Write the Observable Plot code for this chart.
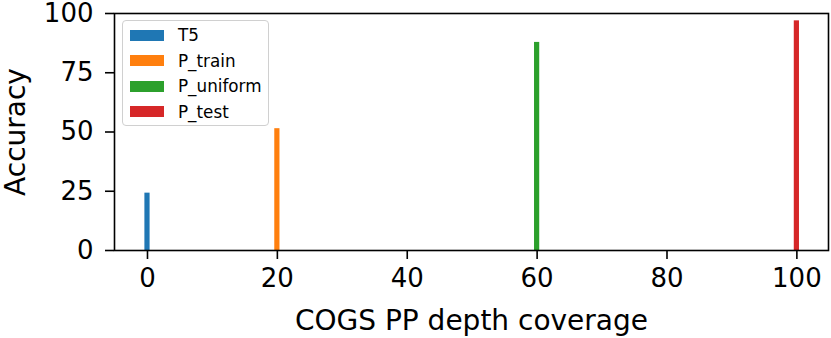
<!DOCTYPE html>
<html>
<head>
<meta charset="utf-8">
<script src="https://cdn.jsdelivr.net/npm/d3@7"></script>
<script src="https://cdn.jsdelivr.net/npm/@observablehq/plot@0.6"></script>
<style>
  html, body { margin: 0; padding: 0; background: white; }
  #wrap { position: relative; width: 831px; height: 338px; font-family: "DejaVu Sans", sans-serif; }
  #legend {
    position: absolute; left: 122px; top: 20px; width: 147px; height: 106px;
    border: 1.3px solid #d0d0d0; border-radius: 4px; background: rgba(255,255,255,0.8);
    box-sizing: border-box;
  }
  .row { position: absolute; left: 0; height: 20px; display: flex; align-items: center; }
  .sw { position: absolute; left: 7px; width: 34px; height: 11px; top: 4.5px; }
  .lab { position: absolute; left: 55px; top: 0; line-height: 20px; font-size: 16.8px; white-space: nowrap; color: black; }
</style>
</head>
<body>
<div id="wrap"></div>
<script>
const models = ["T5", "P_train", "P_uniform", "P_test"];
const coverage = [0, 20, 60, 100];
const accuracy = [24.2, 51.4, 87.8, 96.9];
const colors = ["#1f77b4", "#ff7f0e", "#2ca02c", "#d62728"];
const xTicks = [0, 20, 40, 60, 80, 100];
const yTicks = [0, 25, 50, 75, 100];
const xLabel = "COGS PP depth coverage";
const yLabel = "Accuracy";
const barWidth = 0.8;

const data = models.map((m, i) => ({model: m, coverage: coverage[i], accuracy: accuracy[i]}));

const chart = Plot.plot({
  width: 831,
  height: 338,
  marginLeft: 114,
  marginRight: 3,
  marginTop: 13,
  marginBottom: 88,
  style: {fontFamily: "DejaVu Sans", color: "black", background: "white", overflow: "visible"},
  x: {type: "linear", domain: [-5.08, 104.87]},
  y: {domain: [0, 100]},
  color: {domain: models, range: colors},
  marks: [
    Plot.rectY(data, {
      x1: d => d.coverage - barWidth / 2,
      x2: d => d.coverage + barWidth / 2,
      y: "accuracy",
      fill: "model"
    }),
    Plot.frame({stroke: "black", strokeWidth: 1.6}),
    Plot.axisX({ticks: xTicks, tickSize: 9, tickPadding: 9, fontSize: 26, label: null, strokeWidth: 1.6}),
    Plot.axisY({ticks: yTicks, tickSize: 9, tickPadding: 12, fontSize: 26, label: null, strokeWidth: 1.6}),
    Plot.text([xLabel], {frameAnchor: "bottom", dy: 79, fontSize: 28, fill: "black"}),
    Plot.text([yLabel], {frameAnchor: "left", textAnchor: "middle", dx: -98, rotate: -90, fontSize: 28, fill: "black"})
  ]
});

const wrap = document.getElementById("wrap");
wrap.appendChild(chart);

const legend = document.createElement("div");
legend.id = "legend";
models.forEach((m, i) => {
  const row = document.createElement("div");
  row.className = "row";
  row.style.top = (4 + i * 25.5) + "px";
  row.style.width = "100%";
  const sw = document.createElement("div");
  sw.className = "sw";
  sw.style.background = colors[i];
  const lab = document.createElement("div");
  lab.className = "lab";
  lab.textContent = m;
  row.appendChild(sw);
  row.appendChild(lab);
  legend.appendChild(row);
});
wrap.appendChild(legend);
</script>
</body>
</html>
